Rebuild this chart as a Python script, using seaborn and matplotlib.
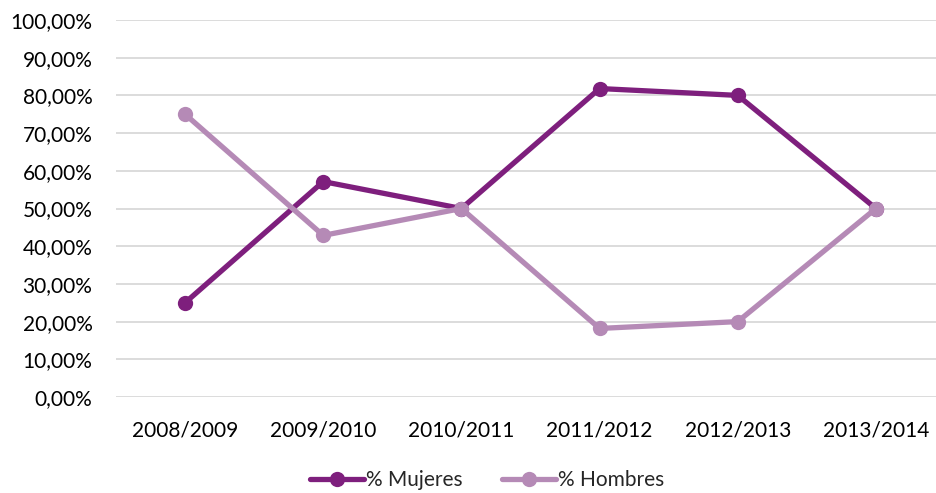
import matplotlib
matplotlib.use("Agg")
import matplotlib.pyplot as plt
import seaborn as sns
import pandas as pd
from matplotlib.ticker import FuncFormatter

# -------------------------------
# Data
# -------------------------------
cursos = ["2008/2009", "2009/2010", "2010/2011", "2011/2012", "2012/2013", "2013/2014"]
mujeres = [25.00, 57.14, 50.00, 81.82, 80.00, 50.00]
hombres = [75.00, 42.86, 50.00, 18.18, 20.00, 50.00]

df = pd.DataFrame({
    "curso": cursos * 2,
    "valor": mujeres + hombres,
    "serie": ["% Mujeres"] * len(cursos) + ["% Hombres"] * len(cursos),
})

sns.set_style("white")
plt.rcParams["font.family"] = ["Lato", "DejaVu Sans"]

fig = plt.figure(figsize=(9.36, 4.93), dpi=100)
ax = fig.add_axes([116 / 936, 1 - 397 / 493, (945 - 116) / 936, (397 - 20) / 493])

sns.lineplot(
    data=df,
    x="curso",
    y="valor",
    hue="serie",
    palette={"% Mujeres": "#7E1F7D", "% Hombres": "#B58AB6"},
    marker="o",
    markersize=11,
    markeredgewidth=0,
    linewidth=3.8,
    sort=False,
    ax=ax,
)

ax.set_xlim(-0.5, 5.5)
ax.set_ylim(0, 100)
ax.set_yticks(range(0, 101, 10))
ax.yaxis.set_major_formatter(FuncFormatter(lambda v, p: f"{v:.2f}".replace(".", ",") + "%"))
ax.grid(axis="y", color="#D9D9D9", linewidth=1.3)
ax.set_axisbelow(True)
for s in ax.spines.values():
    s.set_visible(False)
ax.set_xlabel("")
ax.set_ylabel("")
ax.tick_params(axis="both", length=0, labelsize=15, colors="#000000")
ax.tick_params(axis="y", pad=17)
ax.tick_params(axis="x", pad=17)

handles, labels = ax.get_legend_handles_labels()
ax.legend(
    handles, labels,
    loc="center", bbox_to_anchor=((487 - 116) / 829, -0.22),
    ncol=2, frameon=False, fontsize=15,
    handlelength=2.6, handletextpad=0.1, columnspacing=1.9,
)

fig.savefig("out.png", dpi=100)
